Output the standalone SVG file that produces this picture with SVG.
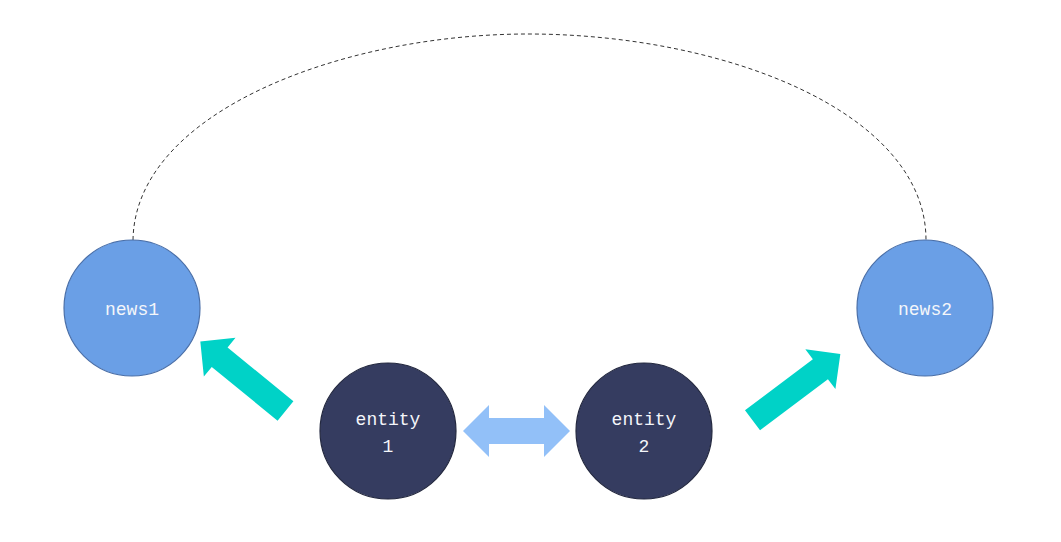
<svg xmlns="http://www.w3.org/2000/svg" width="1061" height="542" viewBox="0 0 1061 542">
<style>
.news{fill:#6A9FE6;stroke:#4A6FA8;stroke-width:1.2}
.ent{fill:#353C60;stroke:#23283F;stroke-width:1.2}
.lbl{font-family:"Liberation Mono","DejaVu Sans Mono",monospace;font-size:18px;fill:#F4F6FA;text-anchor:middle}
.teal{fill:#00D2C7}
.dbl{fill:#92C0F8}
.dash{fill:none;stroke:#333;stroke-width:1;stroke-dasharray:4 3}
</style>
<rect width="1061" height="542" fill="#fff"/>
<g id="connectors">
<path class="dash" d="M133,240 C135,112 342,34 528,34 C724,34 926,112 926,240"/>
<polygon class="teal" transform="translate(285.5,411) rotate(219.25)" points="0,-12.5 85,-12.5 85,-25 110,0 85,25 85,12.5 0,12.5"/>
<polygon class="teal" transform="translate(752.5,420.3) rotate(-37)" points="0,-12.5 85,-12.5 85,-25 110,0 85,25 85,12.5 0,12.5"/>
<polygon class="dbl" points="463,431 489,405 489,418 544,418 544,405 570,431 544,457 544,444 489,444 489,457"/>
</g>
<g id="news1">
<circle class="news" cx="132" cy="308" r="68"/>
<text class="lbl" x="132" y="315">news1</text>
</g>
<g id="news2">
<circle class="news" cx="925" cy="308" r="68"/>
<text class="lbl" x="925" y="315">news2</text>
</g>
<g id="entity1">
<circle class="ent" cx="388" cy="431" r="68"/>
<text class="lbl" x="388" y="425">entity</text>
<text class="lbl" x="388" y="452">1</text>
</g>
<g id="entity2">
<circle class="ent" cx="644" cy="431" r="68"/>
<text class="lbl" x="644" y="425">entity</text>
<text class="lbl" x="644" y="452">2</text>
</g>
</svg>
